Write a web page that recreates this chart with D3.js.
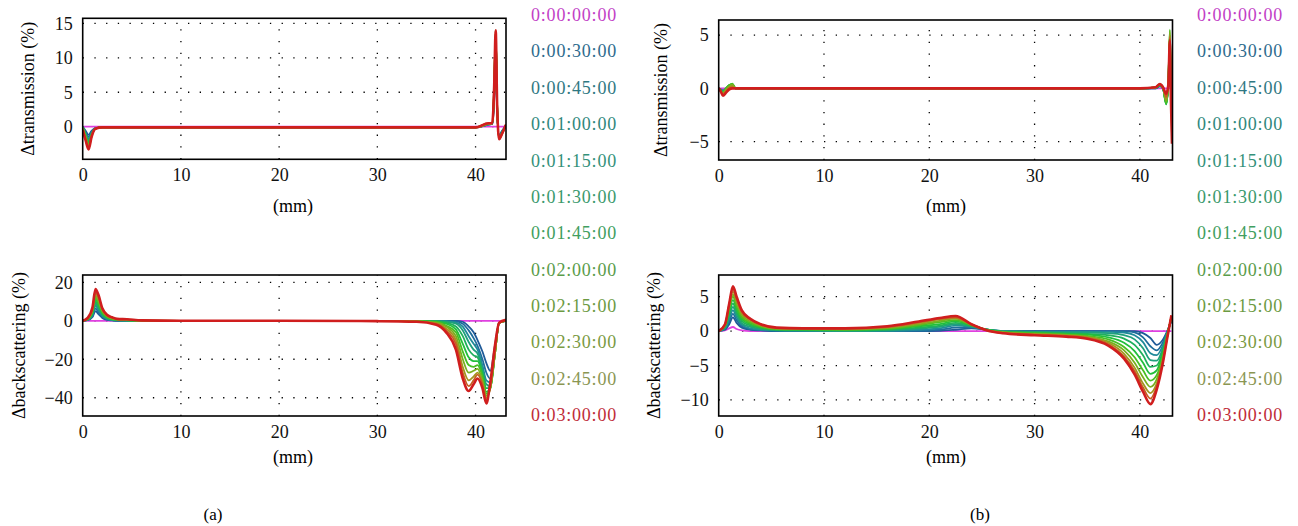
<!DOCTYPE html>
<html><head><meta charset="utf-8">
<script src="https://cdn.jsdelivr.net/npm/d3@7/dist/d3.min.js"></script>
<style>
body{margin:0;background:#fff;}
</style></head>
<body><svg id="c" width="1298" height="526"></svg>
<script>
// ---------- data ----------
const legendLabels = ["0:00:00:00","0:00:30:00","0:00:45:00","0:01:00:00","0:01:15:00","0:01:30:00","0:01:45:00","0:02:00:00","0:02:15:00","0:02:30:00","0:02:45:00","0:03:00:00"];
const legendColors = ["#c23fc6","#2e6b8d","#2f7882","#2f877c","#34917a","#3a996c","#419e60","#5a9c4a","#6c9a42","#7a9a42","#8a9652","#c02c38"];
const lineColors = ["#e040e0","#1f5a98","#1f6c9c","#1f8a9a","#1fa07c","#1fb05c","#22bf3c","#48bf22","#78b020","#a49420","#c46020","#d01e1e"];

const xTicks = [0,10,20,30,40];
const aTransTicks = [0,5,10,15];
const aBackTicks = [-40,-20,0,20];
const bTransTicks = [-5,0,5];
const bBackTicks = [-10,-5,0,5];

// (a) transmission
const aTransX = [0,0.3,0.6,0.9,1.3,2,10,20,30,40,41.3,41.7,41.9,42.05,42.2,42.4,42.7,43.1];
const aTransY = [
 [0,0,0,0,0,0,0,0,0,0,0,0,0,0,0,0,0,0],
 [0,-0.6,-1.2,-0.6,-0.2,-0.1,-0.1,-0.1,-0.1,-0.1,0.3,0.4,4,12,2,-1.2,-0.6,0.2],
 [0,-0.8,-1.5,-0.8,-0.2,-0.1,-0.1,-0.1,-0.1,-0.1,0.3,0.4,4.5,12.5,2.2,-1.3,-0.7,0.2],
 [0,-1.0,-1.8,-0.9,-0.2,-0.1,-0.1,-0.1,-0.1,-0.1,0.3,0.4,5,13,2.4,-1.4,-0.8,0.2],
 [0,-1.1,-2.0,-1.0,-0.25,-0.1,-0.1,-0.1,-0.1,-0.1,0.4,0.4,5,13.5,2.6,-1.5,-0.8,0.2],
 [0,-1.2,-2.2,-1.1,-0.25,-0.1,-0.1,-0.1,-0.1,-0.1,0.4,0.45,5.5,13.5,2.6,-1.5,-0.9,0.2],
 [-0.1,-1.3,-2.4,-1.2,-0.3,-0.1,-0.1,-0.1,-0.1,-0.1,0.4,0.45,5.5,13.8,2.8,-1.6,-0.9,0.2],
 [-0.1,-1.4,-2.6,-1.2,-0.3,-0.1,-0.1,-0.1,-0.1,-0.1,0.4,0.5,5.5,14,2.8,-1.6,-0.9,0.2],
 [-0.2,-1.5,-2.8,-1.3,-0.3,-0.1,-0.1,-0.1,-0.1,-0.1,0.4,0.5,6,13.5,3,-1.7,-1.0,0.2],
 [-0.2,-1.7,-3.0,-1.4,-0.3,-0.1,-0.1,-0.1,-0.1,-0.1,0.4,0.5,6,13.5,3,-1.7,-1.0,0.3],
 [-0.3,-1.8,-3.1,-1.4,-0.3,-0.1,-0.1,-0.1,-0.1,-0.1,0.5,0.5,6,13.8,3,-1.8,-1.0,0.3],
 [-0.5,-2.0,-3.3,-1.5,-0.3,-0.1,-0.1,-0.1,-0.1,-0.1,0.5,0.5,6,14,3,-1.8,-1.0,0.3]
];

// (a) backscattering
const aBackX = [0,0.5,1.0,1.3,1.6,2.0,2.5,3.0,3.5,4.5,6,10,20,30,34,36,37,38,38.7,39.3,39.8,40.2,40.7,41.1,41.5,42.0,42.4,43.1];
const aBackY = [
 [0,0,0,0,0,0,0,0,0,0,0,0,0,0, 0,0,0,0,0,0,0,0,0,0,0,0,0,0],
 [0,0.3,2,5,3.5,1.5,0.5,0.2,0,0,0,0,0,0, 0,0,0,0,-0.5,-3,-6,-10,-16,-22,-26,-12,-1,0],
 [0,0.4,2.5,6.5,4.5,2,0.7,0.3,0.1,0,0,0,0,0, 0,0,0,-0.3,-1.5,-5,-9,-13,-20,-27,-30,-14,-1,0],
 [0,0.5,3,8,5.5,2.5,1,0.4,0.2,0,0,0,0,0, 0,0,-0.2,-0.8,-3,-8,-12,-15,-23,-31,-32,-15,-1,0],
 [0,0.6,3.5,9,6.5,3,1.2,0.5,0.3,0.1,0,0,0,0, 0,-0.2,-0.5,-1.5,-5,-11,-15,-17,-25,-33,-34,-15,-1,0],
 [0,0.7,4,10,7.5,3.5,1.5,0.7,0.4,0.2,0,0,0,0, -0.1,-0.3,-1,-3,-8,-15,-18,-19,-27,-35,-35,-16,-1,0],
 [0,0.8,4.5,11,8.5,4,1.8,0.9,0.5,0.3,0,0,0,0, -0.2,-0.5,-1.5,-4.5,-12,-19,-21,-21,-28,-37,-35,-16,-1,0],
 [0,0.9,5,12,9.5,4.5,2,1,0.6,0.4,0,0,0,0, -0.2,-0.7,-2.5,-6,-16,-23,-24,-23,-29,-38,-35,-16,-1,0],
 [0,1,5.5,13,10.5,5,2.3,1.2,0.7,0.5,0.1,0,0,0, -0.3,-1,-3,-8,-20,-27,-26,-25,-31,-39,-35,-16,-1,0],
 [0,1.1,6,14,11.5,5.5,2.6,1.4,0.8,0.6,0.1,0,0,0, -0.3,-1.3,-4,-10,-24,-31,-29,-27,-32,-40,-35,-16,-1,0],
 [0,1.2,6.5,15,12.5,6,2.9,1.6,0.9,0.7,0.2,0,0,0, -0.4,-1.6,-5,-12,-27,-34,-31,-28,-33,-41,-34,-15,-1,0],
 [0,1.5,7,16.5,13.5,6.5,3,1.8,1,0.8,0.2,0,0,-0.2, -0.5,-2,-6,-15,-30,-36.5,-33,-30,-35,-43,-32,-12,-1,0.5]
];

// (b) transmission
const bTransX = [0,0.2,0.4,0.7,1.0,1.3,1.6,10,20,30,40,41.5,41.9,42.2,42.5,42.7,42.85,42.95,43.05];
const bTransY = [
 [0,0,0,0,0,0,0,0,0,0,0,0,0,0,0,0,0,0,0],
 [0,-0.1,-0.2,-0.1,0.1,0.1,0,0,0,0,0,0,0.2,0,-1.0,0.3,2.5,0.5,-1],
 [0,-0.15,-0.25,-0.05,0.15,0.2,0,0,0,0,0,0,0.2,0,-1.2,0.3,3,0.4,-1.5],
 [0,-0.15,-0.3,0,0.2,0.25,0,0,0,0,0,0.05,0.25,0,-1.3,0.4,3.5,0.3,-1.8],
 [0,-0.2,-0.3,0,0.25,0.3,0,0,0,0,0,0.05,0.25,0,-1.4,0.4,4,0.2,-2],
 [0,-0.2,-0.35,0,0.3,0.35,0,0,0,0,0,0.05,0.3,0,-1.5,0.5,4.5,0,-2.2],
 [0,-0.2,-0.4,0,0.3,0.4,0,0,0,0,0,0.1,0.3,0,-1.5,0.5,5,0,-2.5],
 [0,-0.2,-0.4,0,0.3,0.45,0,0,0,0,0,0.1,0.35,0.05,-1.4,0.5,5.5,0,-2.5],
 [0,-0.25,-0.5,-0.1,0.2,0.35,0,0,0,0,0,0.1,0.35,0.05,-1.2,0.4,5.3,-0.3,-3],
 [0,-0.25,-0.55,-0.2,0.1,0.2,0,0,0,0,0,0.1,0.4,0.1,-1,0.4,5,-0.5,-3.5],
 [0,-0.3,-0.6,-0.3,0,0.1,0,0,0,0,0,0.1,0.4,0.1,-0.8,0.3,4.8,-0.8,-4.5],
 [0,-0.3,-0.7,-0.4,-0.1,0,0,0,0,0,0,0.1,0.4,0.1,-0.5,0.3,4.5,-1,-5.2]
];

// (b) backscattering
const bBackX = [0,0.6,1.0,1.35,1.7,2.2,3,4,5.5,8,12,16,19,21,22.5,24,25.5,27,30,33,35,37,38.5,39.5,40.3,41.0,41.6,42.2,42.6,43.0];
const bBackY = [
 [0,0.1,0.4,0.6,0.3,0.1,0,0,0,0,0,0,0,0,0,0,0,0,0,0,0,0,0,0,0,0,0,0,0,0],
 [0,0.2,1.0,2.0,1.2,0.5,0.2,0.1,0,0,0,0,0,0.05,0.2,0.4,0.2,0,0,0,0,0,0,0,-0.3,-1.0,-2.0,-1.2,0,1.5],
 [0,0.3,1.4,2.5,1.6,0.7,0.3,0.15,0.05,0,0,0,0.05,0.2,0.5,0.5,0.2,0,0,0,0,0,0,-0.2,-0.9,-2.2,-2.8,-1.6,-0.1,1.6],
 [0,0.4,1.8,3.0,2.0,0.9,0.4,0.2,0.1,0.05,0,0.05,0.2,0.4,0.8,0.6,0.2,0,-0.1,-0.1,-0.1,-0.1,-0.2,-0.6,-1.6,-3.2,-3.5,-2.0,-0.2,1.7],
 [0,0.5,2.2,3.5,2.4,1.1,0.6,0.3,0.15,0.1,0.05,0.1,0.35,0.6,1.0,0.7,0.2,0,-0.1,-0.2,-0.2,-0.3,-0.6,-1.2,-2.5,-4.2,-4.3,-2.4,-0.3,1.8],
 [0,0.6,2.6,4.0,2.8,1.4,0.8,0.45,0.2,0.15,0.1,0.2,0.5,0.8,1.2,0.8,0.2,-0.1,-0.2,-0.3,-0.4,-0.6,-1.1,-2.0,-3.5,-5.2,-5.0,-2.8,-0.4,1.9],
 [0,0.7,2.9,4.5,3.2,1.7,1.0,0.55,0.25,0.2,0.15,0.3,0.7,1.0,1.4,0.8,0.2,-0.1,-0.25,-0.4,-0.5,-0.9,-1.7,-2.9,-4.6,-6.2,-5.7,-3.1,-0.5,2.0],
 [0,0.8,3.2,5.0,3.6,2.0,1.2,0.65,0.3,0.25,0.2,0.35,0.85,1.3,1.6,0.9,0.15,-0.15,-0.3,-0.5,-0.7,-1.2,-2.3,-3.8,-5.7,-7.2,-6.4,-3.5,-0.6,2.1],
 [0,0.85,3.5,5.3,4.0,2.3,1.4,0.75,0.35,0.3,0.25,0.45,1.0,1.5,1.8,0.9,0.15,-0.2,-0.4,-0.55,-0.8,-1.5,-2.8,-4.6,-6.7,-8.1,-7.0,-3.8,-0.7,2.1],
 [0,0.9,3.7,5.7,4.4,2.6,1.6,0.85,0.4,0.35,0.3,0.55,1.15,1.7,1.9,1.0,0.1,-0.2,-0.45,-0.65,-0.9,-1.7,-3.3,-5.3,-7.6,-9.0,-7.6,-4.1,-0.8,2.2],
 [0,0.95,3.9,6.1,4.7,2.8,1.7,0.95,0.45,0.4,0.35,0.6,1.3,1.8,2.0,1.0,0.1,-0.25,-0.5,-0.7,-1.0,-1.9,-3.7,-5.8,-8.2,-9.8,-8.0,-4.3,-0.9,2.2],
 [0,1.0,4.0,6.5,5.0,3.0,1.8,1.0,0.5,0.4,0.4,0.7,1.4,1.9,2.2,1.0,0.1,-0.3,-0.6,-0.8,-1.1,-2.1,-4.0,-6.3,-8.8,-10.6,-8.5,-4.5,-1.0,2.3]
];

// ---------- drawing ----------
const FONT = "'Liberation Serif', 'DejaVu Serif', 'Times New Roman', serif";
const svg = d3.select("#c").attr("font-family", FONT).style("font-family", FONT);
const FS = 18;

function txt(sel) { return sel.attr("font-family", FONT).style("font-family", FONT); }

function panel(id, box, xDom, yDom, yTicks, xs, ys, yLabel, mmY) {
  const x = d3.scaleLinear().domain(xDom).range([box.l, box.r]);
  const y = d3.scaleLinear().domain(yDom).range([box.b, box.t]);
  const g = svg.append("g");
  g.append("clipPath").attr("id", "clip" + id).append("rect")
    .attr("x", box.l).attr("y", box.t).attr("width", box.r - box.l).attr("height", box.b - box.t);

  // grid
  const grid = g.append("g").attr("stroke", "#000").attr("stroke-width", 1.3)
    .attr("stroke-dasharray", "1.3,10.4").attr("fill", "none");
  xTicks.filter(v => v > xDom[0]).forEach(v => {
    grid.append("line").attr("x1", x(v)).attr("x2", x(v)).attr("y1", box.b).attr("y2", box.t);
  });
  yTicks.forEach(v => {
    grid.append("line").attr("x1", box.l).attr("x2", box.r).attr("y1", y(v)).attr("y2", y(v));
  });

  // lines
  const line = d3.line().x((d, i) => x(xs[i])).y(d => y(d)).curve(d3.curveMonotoneX);
  const lg = g.append("g").attr("clip-path", "url(#clip" + id + ")");
  ys.forEach((s, k) => {
    lg.append("path").attr("d", line(s)).attr("fill", "none")
      .attr("stroke", lineColors[k]).attr("stroke-width", k === 11 ? 2.6 : 1.8)
      .attr("stroke-linejoin", "round");
  });

  // axes
  const xa = g.append("g").attr("transform", `translate(0,${box.b})`)
    .call(d3.axisBottom(x).tickValues(xTicks).tickSize(0).tickPadding(9).tickFormat(d3.format("d")));
  const ya = g.append("g").attr("transform", `translate(${box.l},0)`)
    .call(d3.axisLeft(y).tickValues(yTicks).tickSize(0).tickPadding(10).tickFormat(d3.format("d")));
  [xa, ya].forEach(a => {
    a.attr("font-family", FONT);
    a.select(".domain").remove();
    txt(a.selectAll("text")).attr("font-size", FS).attr("fill", "#111");
  });

  // frame
  g.append("rect").attr("x", box.l).attr("y", box.t).attr("width", box.r - box.l).attr("height", box.b - box.t)
    .attr("fill", "none").attr("stroke", "#000").attr("stroke-width", 1.6);

  // titles
  txt(g.append("text")).attr("x", box.mx).attr("y", mmY)
    .attr("text-anchor", "middle").attr("dominant-baseline", "middle").attr("font-size", FS).text("(mm)");
  txt(g.append("text")).attr("transform", `translate(${box.yl},${(box.t + box.b) / 2}) rotate(-90)`)
    .attr("text-anchor", "middle").attr("dominant-baseline", "middle").attr("font-size", FS).text(yLabel);
}

panel("at", {l: 82.7, r: 506, t: 18.3, b: 159.3, yl: 30, mx: 293}, [0, 43.1], [-4.73, 15.73], aTransTicks, aTransX, aTransY, "Δtransmission (%)", 208);
panel("ab", {l: 82.7, r: 506, t: 275, b: 416, yl: 21, mx: 293}, [0, 43.1], [-49.5, 23.8], aBackTicks, aBackX, aBackY, "Δbackscattering (%)", 459);
panel("bt", {l: 718.7, r: 1172.5, t: 20, b: 160, yl: 663, mx: 946}, [0, 43.1], [-6.72, 6.41], bTransTicks, bTransX, bTransY, "Δtransmission (%)", 208);
panel("bb", {l: 718.7, r: 1172.5, t: 275, b: 416, yl: 656, mx: 946}, [0, 43.1], [-12.33, 8.15], bBackTicks, bBackX, bBackY, "Δbackscattering (%)", 459);

// legends
function legend(x0) {
  const lgd = svg.append("g");
  legendLabels.forEach((t, i) => {
    txt(lgd.append("text")).attr("x", x0).attr("y", 17 + i * 36.36)
      .attr("dominant-baseline", "middle").attr("font-size", FS)
      .attr("letter-spacing", 0.8)
      .attr("fill", legendColors[i]).text(t);
  });
}
legend(531);
legend(1197);

txt(svg.append("text")).attr("x", 213).attr("y", 516).attr("text-anchor", "middle").attr("dominant-baseline", "middle").attr("font-size", 17).text("(a)");
txt(svg.append("text")).attr("x", 980).attr("y", 516).attr("text-anchor", "middle").attr("dominant-baseline", "middle").attr("font-size", 17).text("(b)");
</script></body></html>
